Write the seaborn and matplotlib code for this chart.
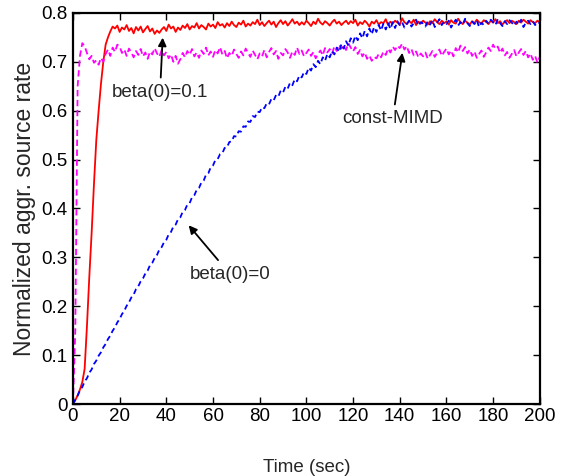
import numpy as np
import pandas as pd
import matplotlib
matplotlib.use('Agg')
import matplotlib.pyplot as plt
import seaborn as sns

sns.set_theme(style='ticks')
plt.rcParams['font.family'] = ['Liberation Sans', 'DejaVu Sans']

time_sec = list(range(0, 201))

# beta(0)=0.1 (red solid)
rate_beta01 = [
    0.000, 0.008, 0.018, 0.030, 0.045, 0.072, 0.160, 0.260, 0.350, 0.450,
    0.540, 0.600, 0.655, 0.700, 0.735, 0.750, 0.762, 0.772, 0.768, 0.774,
    0.761, 0.770, 0.766, 0.775, 0.763, 0.769, 0.758, 0.771, 0.764, 0.772,
    0.760, 0.767, 0.773, 0.762, 0.768, 0.757, 0.764, 0.759, 0.766, 0.771,
    0.763, 0.776, 0.768, 0.772, 0.761, 0.770, 0.765, 0.774, 0.769, 0.777,
    0.766, 0.773, 0.770, 0.779, 0.768, 0.775, 0.771, 0.766, 0.778, 0.772,
    0.776, 0.769, 0.781, 0.774, 0.777, 0.770, 0.779, 0.773, 0.782, 0.775,
    0.771, 0.780, 0.776, 0.784, 0.772, 0.778, 0.774, 0.781, 0.777, 0.786,
    0.775, 0.781, 0.773, 0.779, 0.784, 0.776, 0.782, 0.771, 0.779, 0.785,
    0.777, 0.783, 0.774, 0.780, 0.787, 0.778, 0.782, 0.775, 0.781, 0.776,
    0.784, 0.779, 0.773, 0.782, 0.777, 0.788, 0.780, 0.776, 0.783, 0.779,
    0.774, 0.781, 0.786, 0.778, 0.782, 0.775, 0.780, 0.784, 0.777, 0.783,
    0.779, 0.786, 0.774, 0.781, 0.777, 0.784, 0.779, 0.772, 0.782, 0.778,
    0.785, 0.776, 0.781, 0.779, 0.787, 0.775, 0.782, 0.778, 0.784, 0.780,
    0.776, 0.789, 0.781, 0.777, 0.783, 0.779, 0.786, 0.775, 0.782, 0.778,
    0.784, 0.780, 0.776, 0.783, 0.779, 0.787, 0.781, 0.777, 0.784, 0.779,
    0.782, 0.776, 0.785, 0.780, 0.778, 0.788, 0.781, 0.777, 0.784, 0.780,
    0.776, 0.783, 0.779, 0.786, 0.781, 0.778, 0.785, 0.782, 0.777, 0.784,
    0.780, 0.787, 0.779, 0.783, 0.776, 0.782, 0.785, 0.779, 0.784, 0.781,
    0.777, 0.784, 0.780, 0.786, 0.782, 0.778, 0.785, 0.781, 0.779, 0.784,
    0.781,
]

# const-MIMD (magenta dashed)
rate_mimd = [
    0.000, 0.150, 0.650, 0.712, 0.738, 0.732, 0.718, 0.705, 0.712, 0.698,
    0.703, 0.694, 0.708, 0.700, 0.716, 0.725, 0.712, 0.729, 0.720, 0.735,
    0.731, 0.718, 0.725, 0.712, 0.727, 0.719, 0.709, 0.722, 0.714, 0.726,
    0.711, 0.719, 0.706, 0.721, 0.715, 0.728, 0.717, 0.710, 0.724, 0.713,
    0.720, 0.707, 0.715, 0.700, 0.712, 0.696, 0.705, 0.718, 0.709, 0.722,
    0.714, 0.726, 0.711, 0.719, 0.708, 0.723, 0.716, 0.729, 0.713, 0.721,
    0.710, 0.724, 0.717, 0.730, 0.715, 0.722, 0.707, 0.718, 0.712, 0.725,
    0.716, 0.708, 0.721, 0.713, 0.727, 0.718, 0.710, 0.723, 0.714, 0.705,
    0.717, 0.711, 0.724, 0.709, 0.720, 0.728, 0.715, 0.722, 0.706, 0.718,
    0.713, 0.726, 0.719, 0.708, 0.721, 0.714, 0.729, 0.716, 0.723, 0.711,
    0.718, 0.725, 0.712, 0.720, 0.707, 0.716, 0.723, 0.713, 0.728, 0.719,
    0.726, 0.717, 0.731, 0.722, 0.735, 0.727, 0.733, 0.724, 0.738, 0.729,
    0.721, 0.730, 0.716, 0.724, 0.711, 0.719, 0.706, 0.713, 0.702, 0.710,
    0.707, 0.716, 0.709, 0.721, 0.714, 0.727, 0.719, 0.731, 0.724, 0.733,
    0.728, 0.737, 0.725, 0.732, 0.718, 0.726, 0.713, 0.721, 0.709, 0.717,
    0.711, 0.719, 0.706, 0.714, 0.722, 0.710, 0.718, 0.725, 0.712, 0.720,
    0.727, 0.715, 0.723, 0.711, 0.728, 0.719, 0.733, 0.722, 0.730, 0.717,
    0.725, 0.712, 0.721, 0.708, 0.716, 0.723, 0.710, 0.719, 0.729, 0.722,
    0.735, 0.726, 0.731, 0.718, 0.727, 0.713, 0.720, 0.708, 0.716, 0.724,
    0.711, 0.719, 0.726, 0.714, 0.722, 0.709, 0.717, 0.704, 0.712, 0.698,
    0.710,
]

# beta(0)=0 (blue dashed)
rate_beta0 = [
    0.000, 0.009, 0.017, 0.028, 0.035, 0.046, 0.053, 0.064, 0.071, 0.082,
    0.089, 0.099, 0.106, 0.116, 0.123, 0.133, 0.140, 0.150, 0.157, 0.167,
    0.174, 0.184, 0.191, 0.201, 0.208, 0.218, 0.224, 0.235, 0.241, 0.251,
    0.257, 0.267, 0.273, 0.284, 0.289, 0.299, 0.305, 0.316, 0.321, 0.331,
    0.336, 0.347, 0.352, 0.363, 0.367, 0.378, 0.382, 0.393, 0.397, 0.408,
    0.411, 0.423, 0.427, 0.438, 0.442, 0.453, 0.457, 0.469, 0.472, 0.484,
    0.488, 0.499, 0.501, 0.511, 0.513, 0.524, 0.525, 0.536, 0.537, 0.548,
    0.547, 0.558, 0.557, 0.568, 0.567, 0.578, 0.577, 0.589, 0.587, 0.598,
    0.597, 0.607, 0.605, 0.615, 0.613, 0.624, 0.621, 0.632, 0.629, 0.641,
    0.637, 0.649, 0.645, 0.657, 0.652, 0.664, 0.660, 0.672, 0.668, 0.679,
    0.675, 0.688, 0.682, 0.695, 0.689, 0.702, 0.695, 0.709, 0.702, 0.716,
    0.709, 0.722, 0.715, 0.729, 0.720, 0.736, 0.727, 0.742, 0.733, 0.748,
    0.739, 0.753, 0.744, 0.758, 0.748, 0.763, 0.752, 0.768, 0.756, 0.771,
    0.761, 0.775, 0.764, 0.778, 0.766, 0.779, 0.767, 0.781, 0.769, 0.783,
    0.775, 0.781, 0.770, 0.777, 0.784, 0.772, 0.779, 0.786, 0.774, 0.781,
    0.778, 0.772, 0.783, 0.776, 0.785, 0.771, 0.780, 0.787, 0.775, 0.782,
    0.777, 0.784, 0.770, 0.779, 0.786, 0.774, 0.781, 0.776, 0.788, 0.779,
    0.773, 0.782, 0.777, 0.785, 0.771, 0.780, 0.775, 0.784, 0.778, 0.786,
    0.781, 0.775, 0.787, 0.779, 0.773, 0.783, 0.777, 0.785, 0.780, 0.774,
    0.782, 0.776, 0.786, 0.771, 0.780, 0.784, 0.777, 0.783, 0.775, 0.781,
    0.779,
]

df = pd.DataFrame({'t': time_sec, 'b01': rate_beta01,
                   'mimd': rate_mimd, 'b0': rate_beta0})

fig = plt.figure(figsize=(5.7, 4.76), dpi=100)
ax = fig.add_axes([0.128, 0.151, 0.819, 0.822])

sns.lineplot(data=df, x='t', y='b01', color='#ff0000', lw=1.3, ax=ax)
sns.lineplot(data=df, x='t', y='mimd', color='#ff00ff', lw=1.3, ax=ax).lines[-1].set_dashes((3.5, 2))
sns.lineplot(data=df, x='t', y='b0', color='#0000ff', lw=1.3, ax=ax).lines[-1].set_dashes((3, 2))

ax.set_xlim(0, 200)
ax.set_ylim(0, 0.8)
ax.set_xticks(np.arange(0, 201, 20))
ax.set_yticks(np.arange(0, 0.81, 0.1))
ax.set_yticklabels(['0', '0.1', '0.2', '0.3', '0.4', '0.5', '0.6', '0.7', '0.8'])
ax.tick_params(direction='in', top=True, right=True, length=5, width=1,
               labelsize=13.5, colors='black')
ax.tick_params(axis='x', pad=3)
ax.tick_params(axis='y', pad=4)
for s in ax.spines.values():
    s.set_linewidth(1.6)
    s.set_color('black')

ax.set_xlabel('Time (sec)', fontsize=13.5, labelpad=24)
ax.set_ylabel('Normalized aggr. source rate', fontsize=16.5, labelpad=4)

arrow = dict(arrowstyle='-|>', color='black', lw=1.3, mutation_scale=12)
ax.annotate('beta(0)=0.1', xy=(38.5, 0.755), xytext=(37.3, 0.638),
            ha='center', va='center', fontsize=13.5, arrowprops=arrow)
ax.annotate('const-MIMD', xy=(141.3, 0.724), xytext=(137, 0.583),
            ha='center', va='center', fontsize=13.5, arrowprops=arrow)
ax.annotate('beta(0)=0', xy=(48.8, 0.37), xytext=(67.2, 0.266),
            ha='center', va='center', fontsize=13.5, arrowprops=arrow)

fig.savefig('out.png', dpi=100)
